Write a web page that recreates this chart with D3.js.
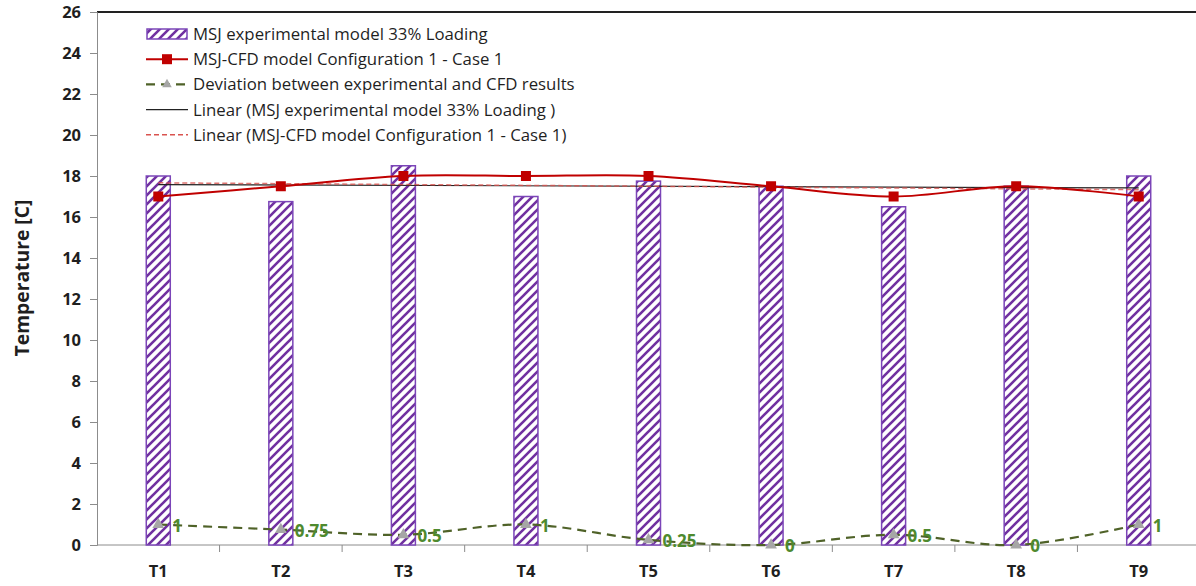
<!DOCTYPE html>
<html>
<head>
<meta charset="utf-8">
<script src="https://cdn.jsdelivr.net/npm/d3@7"></script>
<style>
  html, body { margin: 0; padding: 0; background: #fff; }
  svg { display: block; font-family: "Open Sans", "Noto Sans", sans-serif; }
</style>
</head>
<body>
<svg id="chart" width="1196" height="586"></svg>
<script>
// Sensor positions along the jacket
const categories = ["T1", "T2", "T3", "T4", "T5", "T6", "T7", "T8", "T9"];
// Measured temperatures, 33% loading
const experimental = [18, 16.75, 18.5, 17, 17.75, 17.5, 16.5, 17.5, 18];
// CFD temperatures, configuration 1 case 1
const cfd = [17, 17.5, 18, 18, 18, 17.5, 17, 17.5, 17];
// Absolute deviation between the two
const deviation = [1, 0.75, 0.5, 1, 0.25, 0, 0.5, 0, 1];
const deviationLabels = ["1", "0.75", "0.5", "1", "0.25", "0", "0.5", "0", "1"];
const yTicks = [0, 2, 4, 6, 8, 10, 12, 14, 16, 18, 20, 22, 24, 26];
const legendLabels = [
  "MSJ experimental model 33% Loading",
  "MSJ-CFD model Configuration 1 - Case 1",
  "Deviation between experimental and CFD results",
  "Linear (MSJ experimental model 33% Loading )",
  "Linear (MSJ-CFD model Configuration 1 - Case 1)"
];

const svg = d3.select("#chart");
const plotLeft = 97, plotRight = 1200, plotTop = 12, plotBottom = 545;

const x = d3.scaleBand().domain(categories).range([plotLeft, plotRight]).paddingInner(0).paddingOuter(0);
const y = d3.scaleLinear().domain([0, 26]).range([plotBottom, plotTop]);
const cx = c => x(c) + x.bandwidth() / 2;

const purple = "#7030a0";
const red = "#c00000";
const green = "#4f6228";
const labelGreen = "#4e8a2e";
const textColor = "#1f1f1f";

// hatch fill for the bars
const defs = svg.append("defs");
const pat = defs.append("pattern")
  .attr("id", "hatch").attr("patternUnits", "userSpaceOnUse")
  .attr("width", 9).attr("height", 9);
pat.append("rect").attr("width", 9).attr("height", 9).attr("fill", "#fff");
pat.append("path")
  .attr("d", "M-2.25,2.25 l4.5,-4.5 M0,9 l9,-9 M6.75,11.25 l4.5,-4.5")
  .attr("stroke", purple).attr("stroke-width", 2.6);

// top border
svg.append("line").attr("x1", plotLeft).attr("x2", 1196).attr("y1", plotTop).attr("y2", plotTop)
  .attr("stroke", "#222").attr("stroke-width", 2);

// y axis
const yAxis = svg.append("g").attr("transform", `translate(${plotLeft},0)`)
  .call(d3.axisLeft(y).tickValues(yTicks).tickSize(7).tickPadding(9));
yAxis.select(".domain").attr("stroke", "#8c8c8c");
yAxis.selectAll(".tick line").attr("stroke", "#8c8c8c");
yAxis.selectAll("text").attr("font-size", 16.5).attr("font-weight", "bold").attr("fill", textColor)
  .attr("font-family", "'Open Sans', sans-serif");

// x axis: ticks at category boundaries
const xAxis = svg.append("g").attr("transform", `translate(0,${plotBottom})`);
xAxis.append("line").attr("x1", plotLeft).attr("x2", 1196).attr("y1", 0).attr("y2", 0)
  .attr("stroke", "#8c8c8c");
const bounds = categories.slice(1).map(c => x(c));
xAxis.selectAll("line.tk").data(bounds).join("line").attr("class", "tk")
  .attr("x1", d => d).attr("x2", d => d).attr("y1", 0).attr("y2", 7).attr("stroke", "#8c8c8c");
xAxis.selectAll("text").data(categories).join("text")
  .attr("x", d => cx(d)).attr("y", 32).attr("text-anchor", "middle")
  .attr("font-size", 16.5).attr("font-weight", "bold").attr("fill", textColor)
  .text(d => d);

// y title
svg.append("text").attr("transform", `translate(29,${278}) rotate(-90)`)
  .attr("text-anchor", "middle").attr("font-size", 19.3).attr("font-weight", "bold").attr("fill", textColor)
  .text("Temperature [C]");

// bars
const barW = 24;
svg.append("g").selectAll("rect").data(categories).join("rect")
  .attr("x", (d) => cx(d) - barW / 2)
  .attr("y", (d, i) => y(experimental[i]))
  .attr("width", barW)
  .attr("height", (d, i) => plotBottom - y(experimental[i]))
  .attr("fill", "url(#hatch)").attr("stroke", "#7b45b8").attr("stroke-width", 1.5);

// linear trend lines (least squares over category index)
function trend(vals) {
  const n = vals.length, xs = vals.map((_, i) => i + 1);
  const mx = d3.mean(xs), my = d3.mean(vals);
  const b = d3.sum(xs, (xi, i) => (xi - mx) * (vals[i] - my)) / d3.sum(xs, xi => (xi - mx) ** 2);
  const a = my - b * mx;
  return [a + b * 1, a + b * n];
}
const tExp = trend(experimental), tCfd = trend(cfd);
const first = cx(categories[0]), last = cx(categories[categories.length - 1]);
svg.append("line").attr("x1", first).attr("x2", last).attr("y1", y(tExp[0])).attr("y2", y(tExp[1]))
  .attr("stroke", "#222").attr("stroke-width", 1.2);
svg.append("line").attr("x1", first).attr("x2", last).attr("y1", y(tCfd[0])).attr("y2", y(tCfd[1]))
  .attr("stroke", "#d9534f").attr("stroke-width", 1.5).attr("stroke-dasharray", "5,3").attr("opacity", 0.8);

// CFD line
const smooth = d3.line().x((d, i) => cx(categories[i])).y(d => y(d)).curve(d3.curveCatmullRom.alpha(0.5));
svg.append("path").datum(cfd).attr("d", smooth).attr("fill", "none").attr("stroke", red).attr("stroke-width", 2);
svg.append("g").selectAll("rect").data(cfd).join("rect")
  .attr("x", (d, i) => cx(categories[i]) - 5).attr("y", d => y(d) - 5)
  .attr("width", 10).attr("height", 10).attr("fill", red);

// deviation line
svg.append("path").datum(deviation).attr("d", smooth).attr("fill", "none")
  .attr("stroke", green).attr("stroke-width", 2.2).attr("stroke-dasharray", "9,6");
const tri = d3.symbol().type(d3.symbolTriangle).size(60);
svg.append("g").selectAll("path").data(deviation).join("path")
  .attr("transform", (d, i) => `translate(${cx(categories[i])},${y(d)})`)
  .attr("d", tri).attr("fill", "#a6a6a6");
svg.append("g").selectAll("text").data(deviation).join("text")
  .attr("x", (d, i) => cx(categories[i]) + 14).attr("y", d => y(d) + 7)
  .attr("font-size", 17).attr("font-weight", "bold").attr("fill", labelGreen)
  .text((d, i) => deviationLabels[i]);

// legend
const lg = svg.append("g").attr("transform", "translate(146,34)");
const rowH = 25.2;
legendLabels.forEach((lab, i) => {
  const g = lg.append("g").attr("transform", `translate(0,${i * rowH})`);
  const sx0 = 0, sx1 = 42;
  if (i === 0) {
    g.append("rect").attr("x", 1).attr("y", -5).attr("width", 40).attr("height", 10)
      .attr("fill", "url(#hatch)").attr("stroke", "#7b45b8").attr("stroke-width", 1.5);
  } else if (i === 1) {
    g.append("line").attr("x1", sx0).attr("x2", sx1).attr("stroke", red).attr("stroke-width", 2);
    g.append("rect").attr("x", 16).attr("y", -5).attr("width", 10).attr("height", 10).attr("fill", red);
  } else if (i === 2) {
    g.append("line").attr("x1", sx0).attr("x2", sx1).attr("stroke", green).attr("stroke-width", 2.2)
      .attr("stroke-dasharray", "9,6");
    g.append("path").attr("transform", "translate(21,0)").attr("d", d3.symbol().type(d3.symbolTriangle).size(40)).attr("fill", "#a6a6a6");
  } else if (i === 3) {
    g.append("line").attr("x1", sx0).attr("x2", sx1).attr("stroke", "#222").attr("stroke-width", 1.2);
  } else {
    g.append("line").attr("x1", sx0).attr("x2", sx1).attr("stroke", "#d9534f").attr("stroke-width", 1.5)
      .attr("stroke-dasharray", "5,3");
  }
  g.append("text").attr("x", 47).attr("y", 6).attr("font-size", 16.8).attr("fill", textColor).text(lab);
});
</script>
</body>
</html>
